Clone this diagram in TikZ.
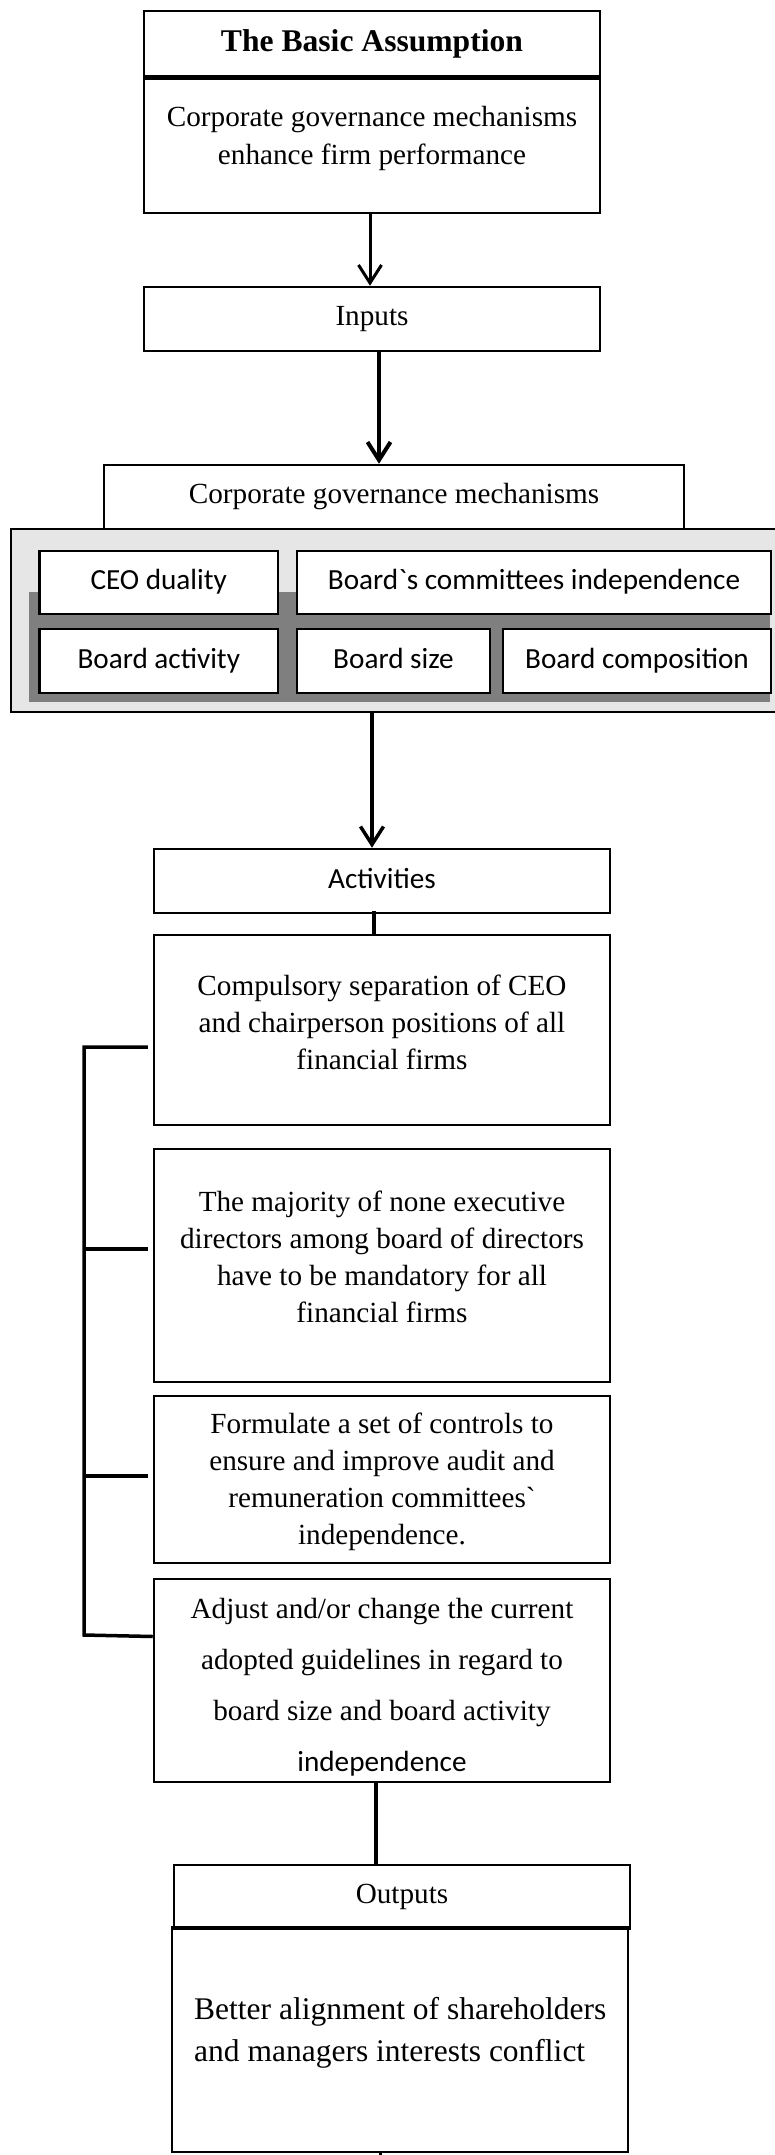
\documentclass[tikz,border=0pt]{standalone}
\usepackage{fontspec}
\setmainfont{Liberation Serif}
\newfontfamily\serplain{Liberation Serif}
\newfontfamily\calib{Carlito}
\usetikzlibrary{arrows.meta}
\definecolor{lightg}{HTML}{E6E6E6}
\definecolor{darkg}{HTML}{7F7F7F}
\begin{document}
\begin{tikzpicture}[x=1pt,y=-1pt,
  box/.style={draw, line width=2.5pt, fill=white, inner sep=0pt},
  bx/.style 2 args={box, minimum width=#1pt, minimum height=#2pt},
  ser/.style={font=\fontsize{29.2}{37}\selectfont, align=center},
  sans/.style={font=\calib\fontsize{29.2}{36}\selectfont, text height=20pt, text depth=6pt},
  arr/.style={-{Straight Barb[length=18pt,width=23pt]}},
  conn/.style={line width=3.5pt}]
\useasboundingbox (0,0) rectangle (775,2155);

% basic assumption
\node[bx={456}{65}, font=\bfseries\fontsize{31.6}{38}\selectfont] (title) at (372,43.5) {The Basic Assumption};
\node[bx={456}{137}] (assum) at (372,144.5) {};
\node[ser, font=\fontsize{29.2}{38}\selectfont] (assumtxt) at (372,138) {Corporate governance mechanisms\\enhance firm performance};
\draw[line width=5pt] (title.south west) -- (title.south east);

% inputs
\node[bx={456}{64}, ser] (inputs) at (372,319) {Inputs};
\draw[arr, line width=3pt] ([xshift=-2pt]assum.south) -- ([xshift=-2pt]inputs.north);

% corporate governance
\node[bx={580}{64}, ser] (cg) at (394,497) {Corporate governance mechanisms};
\draw[arr, line width=4pt] ([xshift=7pt]inputs.south) -- ([xshift=7pt]inputs.south |- cg.north);

% panel
\node[fill=lightg, inner sep=0pt, minimum width=764pt, minimum height=183pt] (panel) at (393,620.5) {};
\draw[line width=2.5pt] (panel.north east) -- (panel.north west) -- (panel.south west) -- (panel.south east);
\fill[darkg] (28.6,592) rectangle (770,702);
\node[bx={238.5}{63}, sans] (ceo) at (158.75,582.5) {CEO duality};
\node[bx={474}{63}, sans] (bci) at (534,582.5) {Board\symbol{96}s committees independence};
\node[bx={238.5}{64}, sans] (bact) at (158.75,661) {Board activity};
\node[bx={193}{64}, sans] (bsize) at (393.5,661) {Board size};
\node[bx={268}{64}, sans] (bcomp) at (637,661) {Board composition};

% activities
\node[bx={456}{64}, sans] (act) at (382,881) {Activities};
\draw[arr, line width=3.5pt] ([xshift=-21pt]panel.south) -- ([xshift=-21pt]panel.south |- act.north);

\node[bx={456}{190}] (b1) at (382,1030) {};
\node[ser] (b1txt) at (382,1022) {Compulsory separation of CEO\\and chairperson positions of all\\financial firms};
\draw[line width=4pt] ([xshift=-8pt,yshift=3pt]act.south) -- ([xshift=-8pt]act.south |- b1.north);

\node[bx={456}{233}] (b2) at (382,1265.5) {};
\node[ser] (b2txt) at (382,1257) {The majority of none executive\\directors among board of directors\\have to be mandatory for all\\financial firms};

\node[bx={456}{167}] (b3) at (382,1479.5) {};
\node[ser] (b3txt) at (382,1482) {Formulate a set of controls to\\ensure and improve audit and\\remuneration committees{\serplain\symbol{96}}\\independence.};

\node[bx={456}{203}] (b4) at (382,1680.5) {};
\node[ser, font=\fontsize{29.2}{51}\selectfont] (b4txt) at (382,1687) {Adjust and/or change the current\\adopted guidelines in regard to\\board size and board activity\\{\calib independence}};

% bracket
\coordinate (t1) at ([xshift=-5pt,yshift=-17pt]b1.west);
\coordinate (t2) at ([xshift=-5pt,yshift=16.5pt]b2.west);
\coordinate (t3) at ([xshift=-5pt,yshift=3.5pt]b3.west);
\coordinate (t4) at ([yshift=44pt]b4.west);
\coordinate (bt) at (84,1047);
\coordinate (bb) at (84,1635);
\draw[conn] (t1) -- (bt) -- (bb) -- (t4);
\draw[conn] (t2) -- (t2 -| bt);
\draw[conn] (t3) -- (t3 -| bt);

% outputs
\node[bx={456}{64}, ser] (outp) at (402,1897) {Outputs};
\draw[line width=4pt] ([xshift=-6pt]b4.south) -- ([xshift=-6pt]b4.south |- outp.north);
\node[bx={456}{223}] (outb) at (400,2040.5) {};
\draw[line width=4.5pt] (outb.north west) -- (outb.north east);
\node[anchor=west, align=left, inner sep=0pt, font=\fontsize{31.5}{42}\selectfont] (outtxt) at (194,2033) {Better alignment of shareholders\\and managers interests conflict};
\coordinate (stubend) at ([xshift=-20pt,yshift=-8pt]outb.south);
\draw[line width=3pt] ([xshift=-20pt]outb.south) -- (stubend);
\end{tikzpicture}
\end{document}
